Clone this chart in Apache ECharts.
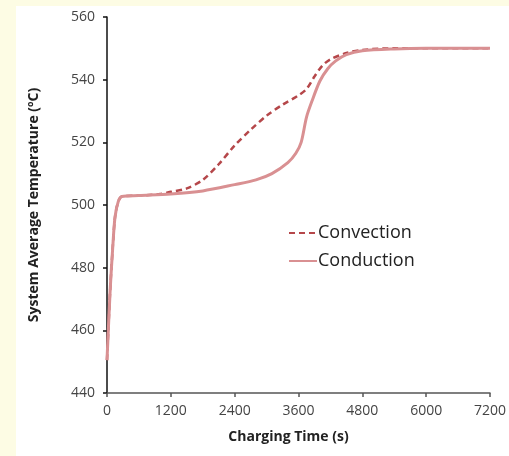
<!DOCTYPE html>
<html lang="en">
<head>
    <meta charset="UTF-8">
    <title>charging</title>
    <style>
        html,
        body {
            margin: 0;
            padding: 0;
            background: #fdfce4;
        }
    </style>
</head>
<body>
    <div id="show" style="width: 509px; height: 456px;"></div>

    <script src="https://cdn.jsdelivr.net/npm/echarts@6/dist/echarts.min.js"></script>
    <script>
        // time (s) / temperature (C)
        var convTime = [0, 60, 110, 150, 210, 280, 600, 1000, 1200, 1500, 1800, 2100, 2400, 2700, 3000, 3300, 3600, 3750, 3900, 4050, 4200, 4500, 4800, 5400, 6000, 7200];
        var convTemp = [450.5, 473, 487, 496, 501, 502.7, 503, 503.5, 504.2, 505.3, 508, 513, 519, 524, 528.5, 532, 535, 537, 541, 544.5, 546.5, 548.5, 549.5, 550, 550, 550];

        var condTime = [0, 60, 110, 150, 210, 280, 600, 1200, 1800, 2400, 2800, 3100, 3400, 3550, 3650, 3750, 3850, 4000, 4150, 4300, 4500, 4800, 5400, 6000, 7200];
        var condTemp = [450.5, 473, 487, 496, 501, 502.7, 503, 503.5, 504.5, 506.5, 508, 510, 513.5, 516.5, 520, 528, 533, 539.5, 543.5, 546, 548, 549.2, 549.8, 550, 550];

        var xTicks = [0, 1200, 2400, 3600, 4800, 6000, 7200];

        function pairs(xs, ys) {
            return xs.map(function (x, i) { return [x, ys[i]]; });
        }

        var chart = echarts.init(document.querySelector('#show'));
        var font = '"Open Sans", sans-serif';

        chart.setOption({
            animation: false,
            graphic: [{
                type: 'rect',
                z: -10,
                shape: { x: 16, y: 6, width: 493, height: 450 },
                style: { fill: '#ffffff' }
            }],
            grid: { left: 107, right: 19, top: 17, bottom: 63 },
            legend: {
                orient: 'vertical',
                left: 283,
                top: 219,
                itemWidth: 28,
                itemHeight: 12,
                itemGap: 10,
                itemStyle: { opacity: 0 },
                textStyle: { fontFamily: font, fontSize: 18, color: '#222', padding: [0, 0, 0, -4] },
                data: ['Convection', 'Conduction']
            },
            xAxis: {
                type: 'value',
                min: 0,
                max: 7200,
                interval: 1200,
                name: 'Charging Time (s)',
                nameLocation: 'middle',
                nameGap: 37,
                nameTextStyle: { fontFamily: font, fontSize: 14, fontWeight: 'bold', color: '#222', padding: [0, 20, 0, 0] },
                axisLine: { lineStyle: { color: '#555', width: 1.5 } },
                axisTick: { show: true, length: 4, lineStyle: { color: '#555', width: 1.5 } },
                axisLabel: {
                    fontFamily: font, fontSize: 14, color: '#444', margin: 11,
                    formatter: function (v) { return xTicks.indexOf(v) >= 0 ? String(v) : ''; }
                },
                splitLine: { show: false }
            },
            yAxis: {
                type: 'value',
                min: 440,
                max: 560,
                interval: 20,
                name: 'System Average Temperature (ºC)',
                nameLocation: 'middle',
                nameGap: 66,
                nameTextStyle: { fontFamily: font, fontSize: 14, fontWeight: 'bold', color: '#222' },
                axisLine: { show: true, lineStyle: { color: '#111', width: 1.5 } },
                axisTick: { show: true, length: 4, lineStyle: { color: '#111', width: 1.5 } },
                axisLabel: { fontFamily: font, fontSize: 14, color: '#444', margin: 12 },
                splitLine: { show: false }
            },
            series: [
                {
                    name: 'Convection',
                    type: 'line',
                    smooth: 0.3,
                    symbol: 'none',
                    z: 2,
                    lineStyle: { color: '#b5474a', width: 2.5, type: [6, 4] },
                    itemStyle: { color: '#b5474a' },
                    data: pairs(convTime, convTemp)
                },
                {
                    name: 'Conduction',
                    type: 'line',
                    smooth: 0.3,
                    symbol: 'none',
                    z: 3,
                    lineStyle: { color: '#d99092', width: 3 },
                    itemStyle: { color: '#d99092' },
                    data: pairs(condTime, condTemp)
                }
            ]
        });
    </script>
</body>
</html>
